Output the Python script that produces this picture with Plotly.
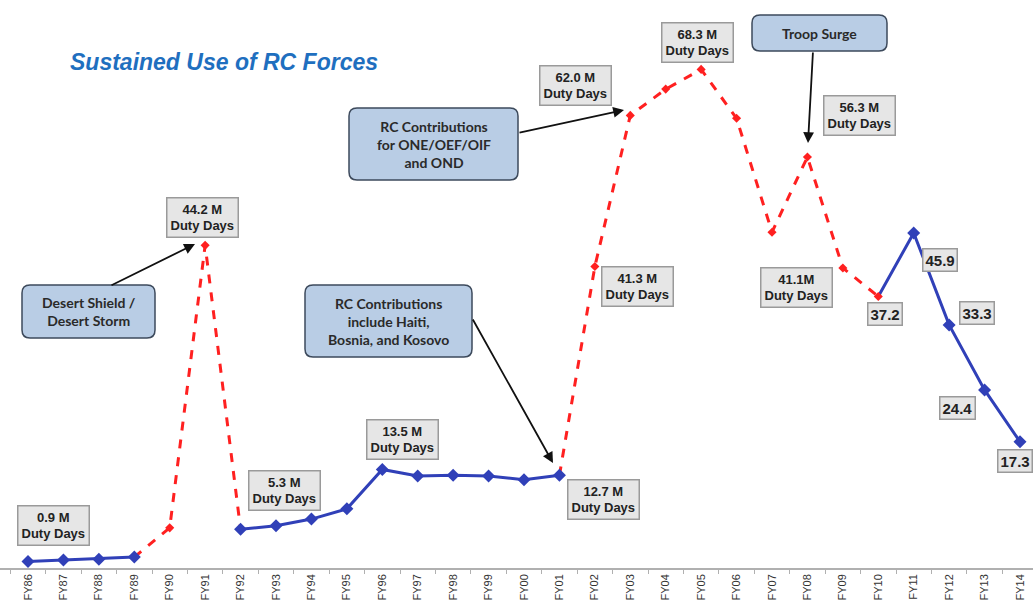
import plotly.graph_objects as go

# fiscal years and RC duty days (millions)
years = ["FY86", "FY87", "FY88", "FY89", "FY90", "FY91", "FY92", "FY93", "FY94", "FY95",
         "FY96", "FY97", "FY98", "FY99", "FY00", "FY01", "FY02", "FY03", "FY04", "FY05",
         "FY06", "FY07", "FY08", "FY09", "FY10", "FY11", "FY12", "FY13", "FY14"]
duty_days = [0.9, 1.1, 1.2, 1.5, 5.5, 44.2, 5.3, 5.8, 6.7, 8.1,
             13.5, 12.6, 12.7, 12.6, 12.1, 12.7, 41.3, 62.0, 65.6, 68.3,
             61.6, 46.0, 56.3, 41.1, 37.2, 45.9, 33.3, 24.4, 17.3]

# contingency spans drawn as red dashed
surge_spans = [("FY89", "FY92"), ("FY01", "FY10")]

# labelled points
duty_label_years = ["FY86", "FY91", "FY92", "FY96", "FY01", "FY02", "FY03", "FY05", "FY08", "FY09"]
short_label_years = ["FY10", "FY11", "FY12", "FY13", "FY14"]

BLUE = "#3040b8"
RED = "#ff2020"

n = len(years)
idx = list(range(n))

red_inner = [False] * n
blue_seg = [True] * n
for a, b in surge_spans:
    ia, ib = years.index(a), years.index(b)
    for i in range(ia + 1, ib):
        red_inner[i] = True
        blue_seg[i] = False
red_inner[years.index("FY10")] = True

blue_line = [v if blue_seg[i] else None for i, v in enumerate(duty_days)]

# pixel helpers (page is 1033 x 609, plot area has no side or top margins)
X0, DX = 28, (1020 - 28) / 28
Y0, DY = 568, 7.3


def px(x):
    return (x - X0) / DX


def py(y):
    return (Y0 - y) / DY


fig = go.Figure()

# red dashed line, broken between the two spans
red_x, red_y = [], []
for a, b in surge_spans:
    ia, ib = years.index(a), years.index(b)
    red_x += idx[ia:ib + 1] + [None]
    red_y += duty_days[ia:ib + 1] + [None]
fig.add_trace(go.Scatter(x=red_x, y=red_y, mode="lines",
                         line=dict(color=RED, width=3, dash="dash"), showlegend=False))

fig.add_trace(go.Scatter(x=idx, y=blue_line, mode="lines",
                         line=dict(color=BLUE, width=3), connectgaps=False, showlegend=False))

fig.add_trace(go.Scatter(x=[i for i in idx if not red_inner[i]],
                         y=[duty_days[i] for i in idx if not red_inner[i]],
                         mode="markers", marker=dict(symbol="diamond", size=10, color=BLUE),
                         showlegend=False))
fig.add_trace(go.Scatter(x=[i for i in idx if red_inner[i]],
                         y=[duty_days[i] for i in idx if red_inner[i]],
                         mode="markers", marker=dict(symbol="diamond", size=7, color=RED),
                         showlegend=False))

annotations = []
shapes = []

# grey value boxes (pixel centres)
duty_box_pos = {"FY86": (53, 525), "FY91": (202, 217), "FY92": (284, 490), "FY96": (402, 439),
                "FY01": (603, 499), "FY02": (637, 286), "FY03": (575, 85), "FY05": (697, 42),
                "FY08": (859, 115), "FY09": (796, 287)}
for y in duty_label_years:
    v = duty_days[years.index(y)]
    sep = "M" if y == "FY09" else " M"
    cx, cy = duty_box_pos[y]
    annotations.append(dict(x=px(cx), y=py(cy), xref="x", yref="y", showarrow=False,
                            text=f"<b>{v:.1f}{sep}<br>Duty Days</b>",
                            font=dict(family="Liberation Sans, Arial", size=13, color="#222"),
                            bgcolor="#e6e6e6", bordercolor="#9a9a9a", borderwidth=1.5,
                            borderpad=3))

short_box_pos = {"FY10": (885, 314), "FY11": (940, 260), "FY12": (977, 313),
                 "FY13": (957, 408), "FY14": (1015, 461)}
for y in short_label_years:
    v = duty_days[years.index(y)]
    cx, cy = short_box_pos[y]
    annotations.append(dict(x=px(cx), y=py(cy), xref="x", yref="y", showarrow=False,
                            text=f"<b>{v:.1f}</b>",
                            font=dict(family="Liberation Sans, Arial", size=15, color="#222"),
                            bgcolor="#e6e6e6", bordercolor="#9a9a9a", borderwidth=1.5,
                            borderpad=2))


def rrect(x0, y0, x1, y1, r=8):
    # rounded rectangle path in data units from pixel corners
    def p(x, y):
        return f"{px(x)},{py(y)}"
    return (f"M {p(x0 + r, y0)} L {p(x1 - r, y0)} Q {p(x1, y0)} {p(x1, y0 + r)} "
            f"L {p(x1, y1 - r)} Q {p(x1, y1)} {p(x1 - r, y1)} L {p(x0 + r, y1)} "
            f"Q {p(x0, y1)} {p(x0, y1 - r)} L {p(x0, y0 + r)} Q {p(x0, y0)} {p(x0 + r, y0)} Z")


callouts = [
    ("Desert Shield /<br>Desert Storm", (22, 285, 155, 338), (110, 286), (195, 244)),
    ("RC Contributions<br>include Haiti,<br>Bosnia, and Kosovo", (305, 285, 472, 357), (472, 318), (553, 463)),
    ("RC Contributions<br>for ONE/OEF/OIF<br>and OND", (349, 108, 518, 180), (518, 133), (624, 110)),
    ("Troop Surge", (752, 15, 887, 51), (813, 51), (808, 143)),
]
for text, (x0, y0, x1, y1), tail, head in callouts:
    shapes.append(dict(type="path", path=rrect(x0, y0, x1, y1), xref="x", yref="y",
                       fillcolor="#b9cde5", line=dict(color="#3d4a5c", width=1.5), layer="above"))
    annotations.append(dict(x=px((x0 + x1) / 2), y=py((y0 + y1) / 2), xref="x", yref="y",
                            showarrow=False, text=f"<b>{text}</b>",
                            font=dict(family="Lato, Open Sans", size=14, color="#2a2a2a")))
    annotations.append(dict(x=px(head[0]), y=py(head[1]), ax=px(tail[0]), ay=py(tail[1]),
                            xref="x", yref="y", axref="x", ayref="y", text="",
                            showarrow=True, arrowhead=2, arrowsize=1.2, arrowwidth=1.8,
                            arrowcolor="#111"))

annotations.append(dict(x=68 / 1033, y=py(62) / py(0), xref="paper", yref="paper",
                        xanchor="left", yanchor="middle", showarrow=False,
                        text="<b><i>Sustained Use of RC Forces</i></b>",
                        font=dict(family="Liberation Sans, Arial", size=23, color="#1f6fbf")))

fig.update_layout(
    width=1033, height=609,
    margin=dict(l=0, r=0, t=0, b=41),
    paper_bgcolor="white", plot_bgcolor="white",
    annotations=annotations, shapes=shapes,
    xaxis=dict(range=[px(0), px(1033)], tickvals=idx, ticktext=years, tickangle=-90,
               showgrid=False, zeroline=False, showline=True, linecolor="#b0b0b0",
               linewidth=1.5, ticks="", tickfont=dict(family="Liberation Sans, Arial",
                                                       size=11, color="#333"),
               minor=dict(tick0=0.5, dtick=1, ticks="outside", ticklen=4, tickcolor="#b0b0b0"),
               fixedrange=True),
    yaxis=dict(range=[0, py(0)], visible=False, fixedrange=True),
)

# drop the default page margin so the figure sits at the window's corner
fig.write_html("out.html", config={"displayModeBar": False},
               post_script="document.body.style.margin='0';")
